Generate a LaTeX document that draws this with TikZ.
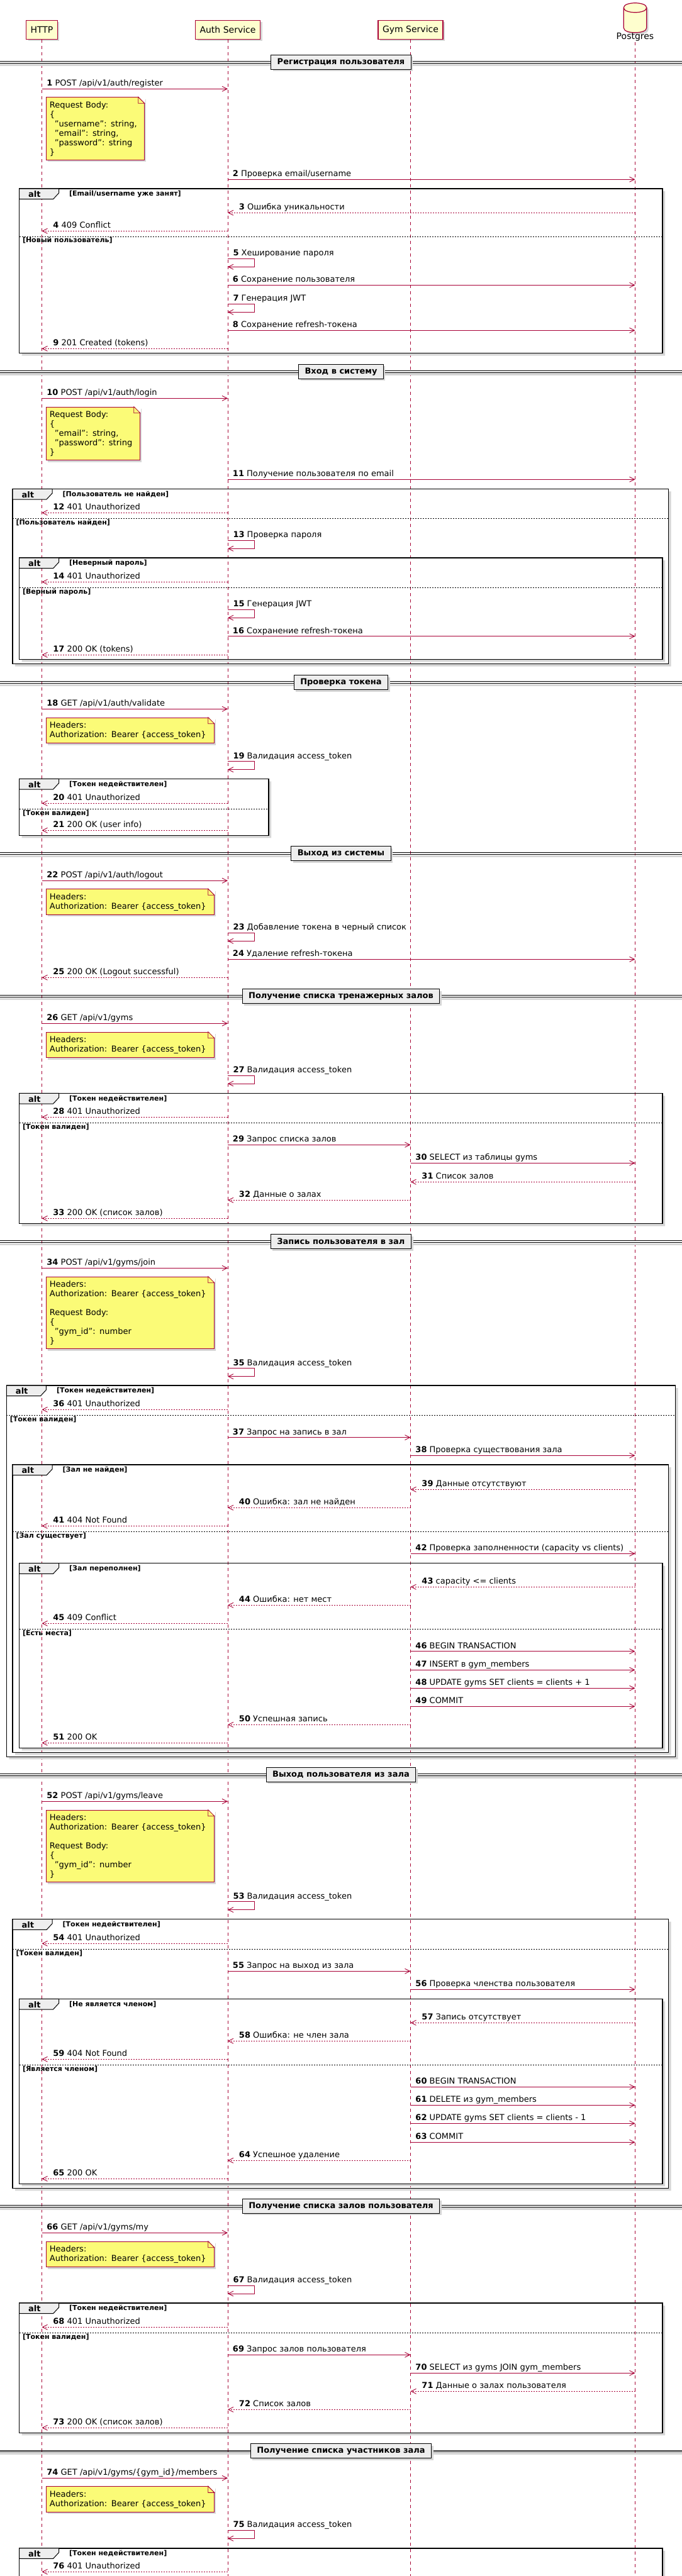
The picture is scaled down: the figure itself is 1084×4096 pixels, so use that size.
\documentclass[tikz,border=0pt]{standalone}
\usepackage{fontspec}
\setmainfont{DejaVu Sans}
\usepackage{tikz}
\usetikzlibrary{arrows.meta,shadows}

\definecolor{seqred}{HTML}{A80036}
\definecolor{partfill}{HTML}{FEFECE}
\definecolor{notefill}{HTML}{FBFB77}
\definecolor{divfill}{HTML}{EEEEEE}
\colorlet{shadowgray}{black!16}

\tikzset{
  shadowed/.style={drop shadow={shadow xshift=3pt, shadow yshift=-3pt, fill=shadowgray, opacity=1}},
  partbox/.style={draw=seqred, fill=partfill, line width=1.2pt, minimum height=30pt,
    inner xsep=7pt, font=\fontsize{14}{16}\selectfont, shadowed},
  life/.style={seqred, line width=0.8pt, dash pattern=on 5pt off 5pt},
  call/.style={seqred, line width=0.9pt, -{Straight Barb[length=8pt, width=8pt]}},
  ret/.style={call, dash pattern=on 2pt off 2pt},
  lbl/.style={inner sep=0pt, anchor=base west, text=black, font=\fontsize{13}{15}\selectfont},
  note/.style={draw=seqred, fill=notefill, line width=0.8pt, anchor=north west, align=left,
    inner xsep=5.5pt, inner ysep=6pt, font=\fontsize{13}{15}\selectfont, shadowed},
  divider/.style={draw=black, fill=divfill, line width=1.2pt, minimum height=23pt,
    inner xsep=10pt, font=\fontsize{13}{15}\selectfont\bfseries, shadowed},
  sepline/.style={black, line width=0.8pt},
  altframe/.style={black, line width=1.5pt},
  alttab/.style={draw=black, fill=divfill, line width=1pt},
  elseline/.style={black, line width=0.8pt, dash pattern=on 2pt off 2pt},
  cond/.style={inner sep=0pt, anchor=base west, font=\fontsize{11}{13}\selectfont\bfseries},
  shadowband/.style={fill=shadowgray}
}

\newcommand{\ind}{\hspace*{8pt}}
\newcommand{\notefold}[1]{%
  \fill[white] ([xshift=-10pt,yshift=1pt]#1.north east) -- ([xshift=1pt,yshift=1pt]#1.north east)
    -- ([xshift=1pt,yshift=-10pt]#1.north east) -- cycle;
  \draw[seqred, line width=0.8pt, fill=notefill] ([xshift=-10pt]#1.north east)
    -- ([yshift=-10pt]#1.north east) -- ([xshift=-10pt,yshift=-10pt]#1.north east) -- cycle;}

\begin{document}
\begin{tikzpicture}[x=1pt,y=-1pt]
\useasboundingbox (0,0) rectangle (1084,4096);
\fill[white] (0,0) rectangle (1084,4096);
\clip (0,0) rectangle (1084,4096);

% Participants
\node[partbox] (http) at (66.5,47.3) {HTTP};
\node[partbox] (auth) at (362,47.3) {Auth Service};
\node[partbox] (gym) at (652.5,47.3) {Gym Service};
\node[minimum width=36pt, minimum height=51.7pt, inner sep=0pt] (pg) at (1009.5,28.3) {};
\draw[seqred, fill=partfill, line width=1.2pt, shadowed]
  ([yshift=-10pt]pg.north west) .. controls (pg.north west) and (pg.north east) .. ([yshift=-10pt]pg.north east)
  -- ([yshift=10pt]pg.south east) .. controls (pg.south east) and (pg.south west) .. ([yshift=10pt]pg.south west)
  -- cycle;
\draw[seqred, line width=1.2pt] ([yshift=-10pt]pg.north west)
  .. controls ([yshift=-20pt]pg.north west) and ([yshift=-20pt]pg.north east) .. ([yshift=-10pt]pg.north east);
\node[font=\fontsize{14}{16}\selectfont, inner sep=1pt] (pgl) at (1009.5,59.3) {Postgres};

% Lifelines
\foreach \p in {http,auth,gym} \draw[life] (\p.south) -- (\p |- 0,4100);
\draw[life] (pgl.south) -- (pgl |- 0,4100);

% Dividers
\foreach \yy/\txt [count=\k] in {
  98.7/{Регистрация пользователя}, 590.8/{Вход в систему}, 1085/{Проверка токена},
  1357/{Выход из системы}, 1584/{Получение списка тренажерных залов},
  1974/{Запись пользователя в зал}, 2821.7/{Выход пользователя из зала},
  3507.8/{Получение списка залов пользователя}, 3897.3/{Получение списка участников зала}} {
  \fill[shadowband] (0,\yy+2.5) rectangle (1084,\yy+6);
  \draw[sepline] (0,\yy-1.2) -- (1084,\yy-1.2) (0,\yy+1.2) -- (1084,\yy+1.2);
  \node[divider] (sep\k) at (542,\yy) {\txt};
}

% Alt frames
\foreach \xa/\ya/\xb/\yb/\txt [count=\k] in {
  30.5/300/1053/561.7/{[Email/username уже занят]},
  20/777.3/1062.5/1055.7/{[Пользователь не найден]},
  30.5/887/1053/1048.3/{[Неверный пароль]},
  30.5/1238.3/427/1328.3/{[Токен недействителен]},
  30.5/1738.3/1053/1945.7/{[Токен недействителен]},
  10.4/2203/1073.6/2793.3/{[Токен недействителен]},
  20/2329/1062.5/2786.3/{[Зал не найден]},
  30.5/2485.7/1053/2779.3/{[Зал переполнен]},
  20/3051.7/1062.5/3479.3/{[Токен недействителен]},
  30.5/3178.3/1053/3472.3/{[Не является членом]},
  30.5/3662/1053/3868.3/{[Токен недействителен]},
  30.5/4051.7/1053/4200/{[Токен недействителен]}} {
  \fill[shadowband] (\xb,\ya+4) -- (\xb+4,\ya+4) -- (\xb+4,\yb+4) -- (\xa+4,\yb+4) -- (\xa+4,\yb) -- (\xb,\yb) -- cycle;
  \draw[altframe] (\xa,\ya) rectangle (\xb,\yb);
  \draw[alttab] (\xa,\ya) -- ++(63,0) -- ++(0,7) -- ++(-9,9.7) -- (\xa,\ya+16.7) -- cycle;
  \node[inner sep=0pt, font=\fontsize{13}{15}\selectfont\bfseries] (alt\k) at (\xa+24.3,\ya+9) {alt};
  \node[cond] (cond\k) at (\xa+79.5,\ya+11.8) {\txt};
}

% Else separators
\foreach \xa/\xb/\yy/\txt [count=\k] in {
  30.5/1053/376/{[Новый пользователь]},
  20/1062.5/824.3/{[Пользователь найден]},
  30.5/1053/934.3/{[Верный пароль]},
  30.5/427/1286.3/{[Токен валиден]},
  30.5/1053/1785.3/{[Токен валиден]},
  10.4/1073.6/2250.3/{[Токен валиден]},
  20/1062.5/2435.3/{[Зал существует]},
  30.5/1053/2590.3/{[Есть места]},
  20/1062.5/3099.3/{[Токен валиден]},
  30.5/1053/3283.3/{[Является членом]},
  30.5/1053/3709.3/{[Токен валиден]}} {
  \draw[elseline] (\xa,\yy) -- (\xb,\yy);
  \node[cond] (else\k) at (\xa+5.3,\yy+9.8) {\txt};
}

% Notes
\node[note, text width=145pt] (n1) at (73,154.3)
  {\strut Request Body:\\\{\\\ind"username": string,\\\ind"email": string,\\\ind"password": string\\\}};
\notefold{n1}
\node[note, text width=138pt] (n2) at (73,646.7)
  {\strut Request Body:\\\{\\\ind"email": string,\\\ind"password": string\\\}};
\notefold{n2}
\foreach \k/\yy in {3/1140.7, 4/1413.3, 5/1640.7, 8/3563.7, 9/3953.3} {
  \node[note, text width=256pt] (n\k) at (73,\yy) {\strut Headers:\\Authorization: Bearer \{access\_token\}};
  \notefold{n\k}
}
\foreach \k/\yy in {6/2029.7, 7/2877.7} {
  \node[note, text width=256pt] (n\k) at (73,\yy)
    {\strut Headers:\\Authorization: Bearer \{access\_token\}\\[15pt]Request Body:\\\{\\\ind"gym\_id": number\\\}};
  \notefold{n\k}
}

% Requests
\foreach \nr/\src/\dst/\yy/\txt in {
  1/http/auth/141.3/{POST /api/v1/auth/register},
  2/auth/pg/285.3/{Проверка email/username},
  6/auth/pg/453.3/{Сохранение пользователя},
  8/auth/pg/525.3/{Сохранение refresh-токена},
  10/http/auth/633.3/{POST /api/v1/auth/login},
  11/auth/pg/762.3/{Получение пользователя по email},
  16/auth/pg/1011.7/{Сохранение refresh-токена},
  18/http/auth/1127.3/{GET /api/v1/auth/validate},
  22/http/auth/1400.3/{POST /api/v1/auth/logout},
  24/auth/pg/1525.3/{Удаление refresh-токена},
  26/http/auth/1627.3/{GET /api/v1/gyms},
  29/auth/gym/1820.3/{Запрос списка залов},
  30/gym/pg/1849.3/{SELECT из таблицы gyms},
  34/http/auth/2016.3/{POST /api/v1/gyms/join},
  37/auth/gym/2285.7/{Запрос на запись в зал},
  38/gym/pg/2314.3/{Проверка существования зала},
  42/gym/pg/2470.3/{Проверка заполненности (capacity vs clients)},
  46/gym/pg/2625.7/{BEGIN TRANSACTION},
  47/gym/pg/2655.3/{INSERT в gym\_members},
  48/gym/pg/2684.3/{UPDATE gyms SET clients = clients + 1},
  49/gym/pg/2713.3/{COMMIT},
  52/http/auth/2864.3/{POST /api/v1/gyms/leave},
  55/auth/gym/3134.3/{Запрос на выход из зала},
  56/gym/pg/3163.3/{Проверка членства пользователя},
  60/gym/pg/3318.3/{BEGIN TRANSACTION},
  61/gym/pg/3347.3/{DELETE из gym\_members},
  62/gym/pg/3376.3/{UPDATE gyms SET clients = clients - 1},
  63/gym/pg/3406.3/{COMMIT},
  66/http/auth/3550.3/{GET /api/v1/gyms/my},
  69/auth/gym/3744.3/{Запрос залов пользователя},
  70/gym/pg/3773.3/{SELECT из gyms JOIN gym\_members},
  74/http/auth/3940.3/{GET /api/v1/gyms/\{gym\_id\}/members}} {
  \draw[call] (\src |- 0,\yy) -- (\dst |- 0,\yy)
    node[lbl, pos=0, xshift=7.5pt, yshift=4.6pt] (m\nr) {\textbf{\nr} \txt};
}

% Replies
\foreach \nr/\src/\dst/\yy/\txt in {
  3/pg/auth/338.3/{Ошибка уникальности},
  4/auth/http/367.3/{409 Conflict},
  9/auth/http/554.3/{201 Created (tokens)},
  12/auth/http/815.3/{401 Unauthorized},
  14/auth/http/925.3/{401 Unauthorized},
  17/auth/http/1041.3/{200 OK (tokens)},
  20/auth/http/1277.3/{401 Unauthorized},
  21/auth/http/1320.3/{200 OK (user info)},
  25/auth/http/1554.3/{200 OK (Logout successful)},
  28/auth/http/1776.3/{401 Unauthorized},
  31/pg/gym/1879.3/{Список залов},
  32/gym/auth/1908.3/{Данные о залах},
  33/auth/http/1937.3/{200 OK (список залов)},
  36/auth/http/2241.3/{401 Unauthorized},
  39/pg/gym/2368.3/{Данные отсутствуют},
  40/gym/auth/2397.3/{Ошибка: зал не найден},
  41/auth/http/2426.3/{404 Not Found},
  43/pg/gym/2523.3/{capacity <= clients},
  44/gym/auth/2552.3/{Ошибка: нет мест},
  45/auth/http/2581.3/{409 Conflict},
  50/gym/auth/2742.3/{Успешная запись},
  51/auth/http/2771.3/{200 OK},
  54/auth/http/3090.3/{401 Unauthorized},
  57/pg/gym/3216.3/{Запись отсутствует},
  58/gym/auth/3245.3/{Ошибка: не член зала},
  59/auth/http/3274.3/{404 Not Found},
  64/gym/auth/3435.3/{Успешное удаление},
  65/auth/http/3464.3/{200 OK},
  68/auth/http/3700.3/{401 Unauthorized},
  71/pg/gym/3802.3/{Данные о залах пользователя},
  72/gym/auth/3831.3/{Список залов},
  73/auth/http/3860.3/{200 OK (список залов)},
  76/auth/http/4089.3/{401 Unauthorized}} {
  \draw[ret] (\src |- 0,\yy) -- (\dst |- 0,\yy)
    node[lbl, pos=1, xshift=17.5pt, yshift=4.6pt] (m\nr) {\textbf{\nr} \txt};
}

% Self calls on Auth Service
\foreach \nr/\yy/\txt in {
  5/411.3/{Хеширование пароля}, 7/483.3/{Генерация JWT}, 13/859.3/{Проверка пароля},
  15/969.3/{Генерация JWT}, 19/1210.7/{Валидация access\_token},
  23/1483.3/{Добавление токена в черный список}, 27/1710/{Валидация access\_token},
  35/2175.7/{Валидация access\_token}, 53/3023.7/{Валидация access\_token},
  67/3634/{Валидация access\_token}, 75/4023.3/{Валидация access\_token}} {
  \draw[call] (auth |- 0,\yy) -- ++(42,0) -- ++(0,13) -- (auth |- 0,\yy+13);
  \node[lbl] (m\nr) at ([xshift=8.3pt, yshift=4.6pt]auth |- 0,\yy) {\textbf{\nr} \txt};
}
\end{tikzpicture}
\end{document}
